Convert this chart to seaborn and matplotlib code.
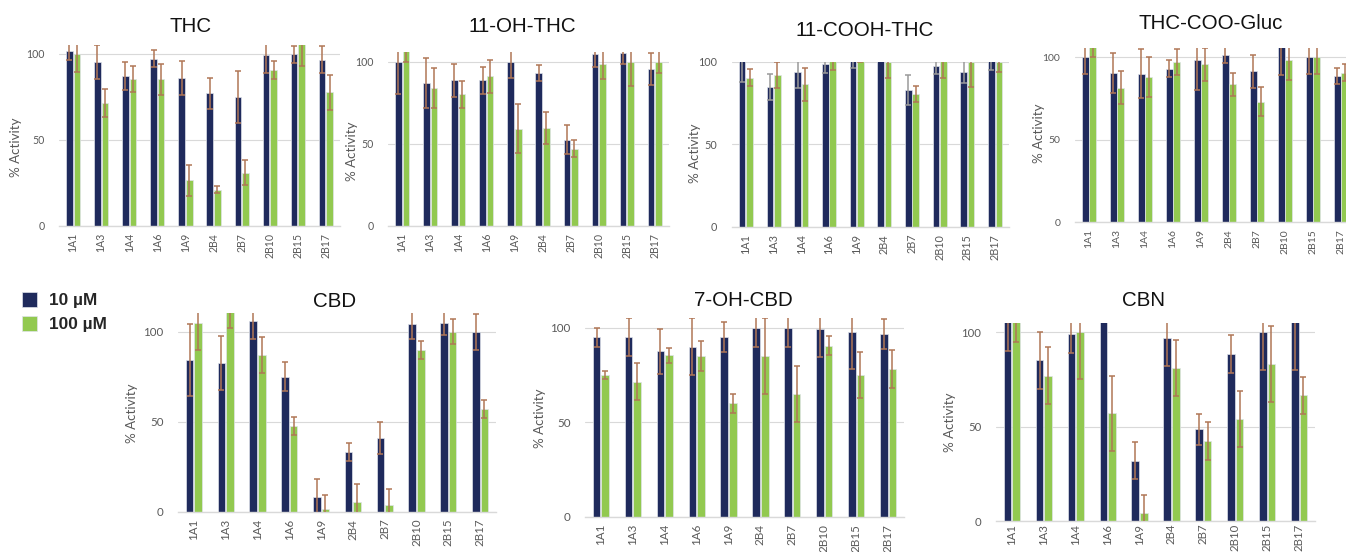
import matplotlib
matplotlib.use('Agg')
import matplotlib.pyplot as plt
from matplotlib.font_manager import FontProperties
import pandas as pd
import seaborn as sns

# % activity (mean, sd)
compounds = ['1A1', '1A3', '1A4', '1A6', '1A9', '2B4', '2B7', '2B10', '2B15', '2B17']
conc_labels = ['10 µM', '100 µM']

thc_10 = [101.5, 95, 87, 97, 86, 77, 75, 99, 99.5, 96.5]
thc_10_sd = [5, 10, 8, 5, 10, 9, 15, 10, 5, 8]
thc_100 = [99.5, 71.5, 85.5, 85, 26.5, 21, 31, 90.5, 106, 77.5]
thc_100_sd = [10, 8, 7.5, 9, 9, 2, 7, 5, 13, 10]

oh_thc_10 = [100, 87, 88.5, 88.5, 100, 93, 52.5, 104.5, 105.5, 95.5]
oh_thc_10_sd = [20, 15, 10, 8, 10, 5, 9, 8, 7, 10]
oh_thc_100 = [107, 84, 80, 91, 59, 59.5, 47, 98.5, 100, 100]
oh_thc_100_sd = [7, 12, 8, 10, 15, 10, 5, 9, 15, 7]

cooh_thc_10 = [102, 85, 94, 98.5, 101, 105, 83, 97.5, 94, 101]
cooh_thc_10_sd = [14, 8, 10, 5, 4.5, 3, 9, 5, 7, 6]
cooh_thc_100 = [90.5, 92, 86.5, 101, 102, 100, 80.5, 100.5, 100, 100]
cooh_thc_100_sd = [5, 8, 10, 6, 2, 10, 5, 10, 15, 6]

gluc_10 = [100, 90.5, 90, 93, 98, 101.5, 91.5, 107, 100, 88.5]
gluc_10_sd = [10, 12, 15, 5, 18, 5, 10, 18, 10, 5]
gluc_100 = [106.5, 81.5, 88, 97, 95.5, 83.5, 73, 98, 100, 90.5]
gluc_100_sd = [6.5, 10, 12, 8, 10, 7, 9, 12, 10, 5]

cbd_10 = [84, 82.5, 106, 75, 8, 33, 41, 104, 105, 100]
cbd_10_sd = [20, 15, 10, 8, 10, 5, 9, 8, 7, 10]
cbd_100 = [105, 112, 87, 47.5, 1.5, 5.5, 3.5, 90, 100, 57]
cbd_100_sd = [15, 10, 10, 5, 8, 10, 9, 5, 7, 5]

oh_cbd_10 = [95, 95, 87.5, 90, 95, 100, 100, 99.5, 98, 96.5]
oh_cbd_10_sd = [5, 10, 12, 15, 8, 10, 10, 15, 20, 8]
oh_cbd_100 = [75, 71.5, 85.5, 85, 60, 85, 65, 90.5, 75, 78]
oh_cbd_100_sd = [2, 10, 4, 8, 5, 20, 15, 5, 12, 10]

cbn_10 = [110, 85, 99, 112, 32, 97, 48.5, 88.5, 100, 106]
cbn_10_sd = [20, 15, 10, 3, 10, 15, 8, 10, 20, 26]
cbn_100 = [108, 77, 100, 57, 4, 81, 42.5, 54, 83, 66.5]
cbn_100_sd = [13, 15, 25, 20, 10, 15, 10, 15, 20, 10]

W, H = 1346, 552
navy = '#1f2a5c'
green = '#92c950'
brown_bar = '#b07656'
brown_cap = '#842f0c'
grey_bar = '#9a9a9a'
grey_cap = '#6f6f6f'
txt_grey = '#595959'

sns.set_style('white')
plt.rcParams['font.family'] = ['Lato', 'DejaVu Sans']

# title, data, box in px (l, t, r, b), ymax, title x / baseline px, tick size,
# x tick pad, ylabel right edge px, ylabel centre (axes frac), 10 uM error bar colours
panels = [
    ('THC', thc_10, thc_10_sd, thc_100, thc_100_sd, (59, 45, 340, 226), 105, (191, 32.3), 7.6, 5, 22.5, 0.434, 'b'),
    ('11-OH-THC', oh_thc_10, oh_thc_10_sd, oh_thc_100, oh_thc_100_sd, (388, 51.7, 669, 225.7), 106, (522.5, 32.3), 7.6, 5, 358, 0.43, 'b'),
    ('11-COOH-THC', cooh_thc_10, cooh_thc_10_sd, cooh_thc_100, cooh_thc_100_sd, (732, 62, 1009, 227), 100, (864.5, 36), 7.8, 5, 701.5, 0.448, 'g'),
    ('THC-COO-Gluc', gluc_10, gluc_10_sd, gluc_100, gluc_100_sd, (1075, 48, 1355, 222), 105.5, (1211, 29.3), 7.5, 5, 1045, 0.511, 'b'),
    ('CBD', cbd_10, cbd_10_sd, cbd_100, cbd_100_sd, (178, 312.7, 496, 511.7), 110.5, (334.5, 306.7), 8.3, 5, 138, 0.496, 'b'),
    ('7-OH-CBD', oh_cbd_10, oh_cbd_10_sd, oh_cbd_100, oh_cbd_100_sd, (585, 318.3, 904, 516.7), 105, (743.5, 306), 8.4, 5, 545.5, 0.497, 'b'),
    ('CBN', cbn_10, cbn_10_sd, cbn_100, cbn_100_sd, (996, 322.7, 1315, 521), 105, (1143.5, 306), 8.2, 2, 956.5, 0.50, 'b'),
]
err_colours = {'b': (brown_bar, brown_cap), 'g': (grey_bar, grey_cap)}

fig = plt.figure(figsize=(W / 100, H / 100), dpi=100)
fig.patch.set_facecolor('white')

handles, labels = None, None
for i, (title, v10, e10, v100, e100, box, ymax, tpos, tsize, xpad, ylab_r, ylab_y, c10) in enumerate(panels):
    l, t, r, b = box
    ax = fig.add_axes([l / W, 1 - b / H, (r - l) / W, (b - t) / H])
    df = pd.DataFrame({
        'compound': compounds * 2,
        'conc': [conc_labels[0]] * len(compounds) + [conc_labels[1]] * len(compounds),
        'activity': v10 + v100,
    })
    sns.barplot(data=df, x='compound', y='activity', hue='conc', palette=[navy, green],
                saturation=1, errorbar=None, width=0.54, gap=0.12, edgecolor='#dfe3ea',
                linewidth=0.5, ax=ax, legend=(i == 0))
    for cont, vals, errs, key in zip(ax.containers, [v10, v100], [e10, e100], [c10, 'b']):
        bar_col, cap_col = err_colours[key]
        xs = [p.get_x() + p.get_width() / 2 for p in cont]
        eb = ax.errorbar(xs, vals, yerr=errs, fmt='none', ecolor=bar_col, elinewidth=1.1,
                         capsize=2.5, capthick=1.1, zorder=3)
        for cap in eb[1]:
            cap.set_color(cap_col)
    if i == 0:
        handles, labels = ax.get_legend_handles_labels()
        ax.get_legend().remove()

    ax.set_ylim(0, ymax)
    ax.set_xlim(-0.5, len(compounds) - 0.5)
    ax.set_yticks([0, 50, 100])
    ax.yaxis.grid(True, color='#d9d9d9', lw=0.8)
    ax.set_axisbelow(True)
    sns.despine(ax=ax, left=True)
    ax.spines['bottom'].set_color('#d9d9d9')
    ax.spines['bottom'].set_linewidth(1)
    ax.tick_params(axis='both', length=0, colors=txt_grey, labelsize=tsize)
    ax.tick_params(axis='y', pad=10.5)
    ax.tick_params(axis='x', pad=xpad, labelrotation=90)
    ax.set_xlabel('')
    ax.set_ylabel('% Activity', fontsize=9.6, color=txt_grey)
    ax.yaxis.set_label_coords((ylab_r - l) / (r - l), ylab_y)
    ax.text((tpos[0] - l) / (r - l), (b - tpos[1]) / (b - t), title, transform=ax.transAxes,
            ha='center', va='baseline', fontsize=14.8, color='#111111',
            family=['Liberation Sans', 'DejaVu Sans'])

fig.legend(handles, labels, loc='upper left', bbox_to_anchor=(22 / W, 1 - 292 / H),
           frameon=False, prop=FontProperties(family='Liberation Sans', weight='bold', size=12.4),
           handlelength=0.85, handleheight=0.95, handletextpad=0.7, labelspacing=0.45,
           borderpad=0, borderaxespad=0)

fig.savefig('out.png', dpi=100, facecolor='white')
